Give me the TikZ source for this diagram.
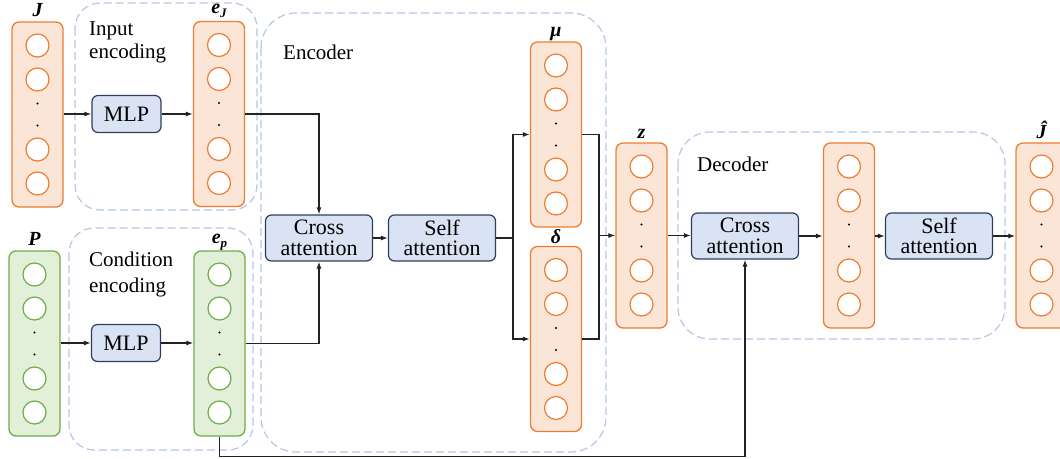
\documentclass[tikz,border=0pt]{standalone}
\usepackage{fontspec}
\setmainfont{Liberation Serif}
\usetikzlibrary{arrows.meta,calc}
\definecolor{orgline}{RGB}{237,125,49}
\definecolor{orgfill}{RGB}{251,229,214}
\definecolor{grnline}{RGB}{112,173,71}
\definecolor{grnfill}{RGB}{226,240,217}
\definecolor{blkline}{RGB}{47,62,95}
\definecolor{blkfill}{RGB}{218,227,243}
\definecolor{grpline}{RGB}{180,199,231}
\definecolor{lineclr}{RGB}{35,35,35}
\tikzset{
 colO/.style={draw=orgline, fill=orgfill, line width=1.3pt, rounded corners=7pt, minimum width=51pt, minimum height=185pt, inner sep=0pt},
 colG/.style={draw=grnline, fill=grnfill, line width=1.3pt, rounded corners=7pt, minimum width=51pt, minimum height=185pt, inner sep=0pt},
 cirO/.style={circle, draw=orgline, fill=white, line width=1.2pt, minimum size=23pt, inner sep=0pt},
 cirG/.style={circle, draw=grnline, fill=white, line width=1.2pt, minimum size=23pt, inner sep=0pt},
 blk/.style={draw=blkline, fill=blkfill, rounded corners=6pt, line width=1.2pt, minimum width=107pt, minimum height=46pt, align=center, font=\fontsize{22}{20.5}\selectfont, inner sep=0pt},
 mlpbox/.style={blk, minimum width=69pt, minimum height=37pt},
 grp/.style={draw=grpline, dash pattern=on 8pt off 4pt, line width=1.2pt},
 conn/.style={draw=lineclr, line width=1.2pt},
 arr/.style={conn, -{Latex[length=7pt,width=5pt]}},
 lbl/.style={font=\fontsize{20}{20}\selectfont\bfseries\itshape, anchor=base, inner sep=0pt},
 ttl/.style={font=\fontsize{21}{24}\selectfont, anchor=base west, inner sep=0pt},
}
\newcommand{\vcol}[4]{%
 \node[col#4] (#1) at (#2,#3) {};
 \node[cir#4] (#1-1) at (#2,#3-69) {};
 \node[cir#4] (#1-2) at (#2,#3-35) {};
 \node[cir#4] (#1-3) at (#2,#3+35) {};
 \node[cir#4] (#1-4) at (#2,#3+69) {};
 \fill[black] (#2,#3-11) circle (1.2pt) (#2,#3+11) circle (1.2pt);
}
\begin{document}
\begin{tikzpicture}[x=1pt,y=-1pt]
\useasboundingbox (0,0) rectangle (1060,458);
% group boxes
\draw[grp, rounded corners=25pt] (75,3) rectangle (257,210);
\draw[grp, rounded corners=25pt] (69,228) rectangle (253,450);
\draw[grp, rounded corners=35pt] (261,13) rectangle (606,452);
\draw[grp, rounded corners=32pt] (678,132) rectangle (1005,339);
% titles
\node[ttl] (t1a) at (89,35) {Input};
\node[ttl] (t1b) at (89,58.5) {encoding};
\node[ttl] (t2a) at (89,266.5) {Condition};
\node[ttl] (t2b) at (89,292) {encoding};
\node[ttl] (t3) at (283,59) {Encoder};
\node[ttl] (t4) at (697,171.5) {Decoder};
% columns
\vcol{J}{37.5}{114.5}{O}
\vcol{eJ}{219}{114}{O}
\vcol{P}{34.5}{343.5}{G}
\vcol{ep}{219.5}{343.5}{G}
\vcol{mu}{556}{134.5}{O}
\vcol{de}{556}{339}{O}
\vcol{z}{641.5}{235.5}{O}
\vcol{mid}{849}{235.5}{O}
\vcol{Jh}{1041.5}{235.5}{O}
% labels
\node[lbl] (lJ) at ([yshift=5pt]J.north) {J};
\node[lbl] (leJ) at ([yshift=7pt]eJ.north) {e\raisebox{-4pt}{\fontsize{13}{13}\selectfont J}};
\node[lbl] (lP) at ([yshift=5pt]P.north) {P};
\node[lbl] (lep) at ([yshift=7pt]ep.north) {e\raisebox{-4pt}{\fontsize{13}{13}\selectfont p}};
\node[lbl] (lmu) at ([yshift=5pt]mu.north) {μ};
\node[lbl] (lde) at ([yshift=2pt]de.north) {δ};
\node[lbl] (lz) at ([yshift=4pt]z.north) {z};
\node[lbl] (lJh) at ([yshift=4pt]Jh.north) {Ĵ};
% blocks
\node[mlpbox] (mlp1) at (126.5,114) {MLP};
\node[mlpbox] (mlp2) at (126,343) {MLP};
\node[blk] (ca1) at (319,238) {Cross\\attention};
\node[blk] (sa1) at (442,238) {Self\\attention};
\node[blk] (ca2) at (745,236) {Cross\\attention};
\node[blk] (sa2) at (939,236) {Self\\attention};
% connectors
\draw[arr] (J.east |- mlp1.west) -- (mlp1.west);
\draw[arr] (mlp1.east) -- (eJ.west |- mlp1.east);
\draw[arr] (P.east |- mlp2.west) -- (mlp2.west);
\draw[arr] (mlp2.east) -- (ep.west |- mlp2.east);
\draw[arr] (eJ.east) -| (ca1.north);
\draw[arr] (ep.east) -| (ca1.south);
\draw[arr] (ca1.east) -- (sa1.west);
\coordinate (split) at (513,238);
\draw[conn] (sa1.east) -- (split);
\draw[arr] (split) |- (mu.west);
\draw[arr] (split) |- (de.west);
\coordinate (merge) at (599,235.5);
\draw[conn] (mu.east) -| (merge);
\draw[conn] (de.east) -| (merge);
\draw[arr] (merge) -- (z.west);
\draw[arr] (z.east) -- (ca2.west |- z.east);
\draw[arr] (ca2.east) -- (mid.west |- ca2.east);
\draw[arr] (mid.east |- sa2.west) -- (sa2.west);
\draw[arr] (sa2.east) -- (Jh.west |- sa2.east);
\draw[arr] (ep.south) -- ++(0,20) -| (ca2.south);
\end{tikzpicture}
\end{document}
